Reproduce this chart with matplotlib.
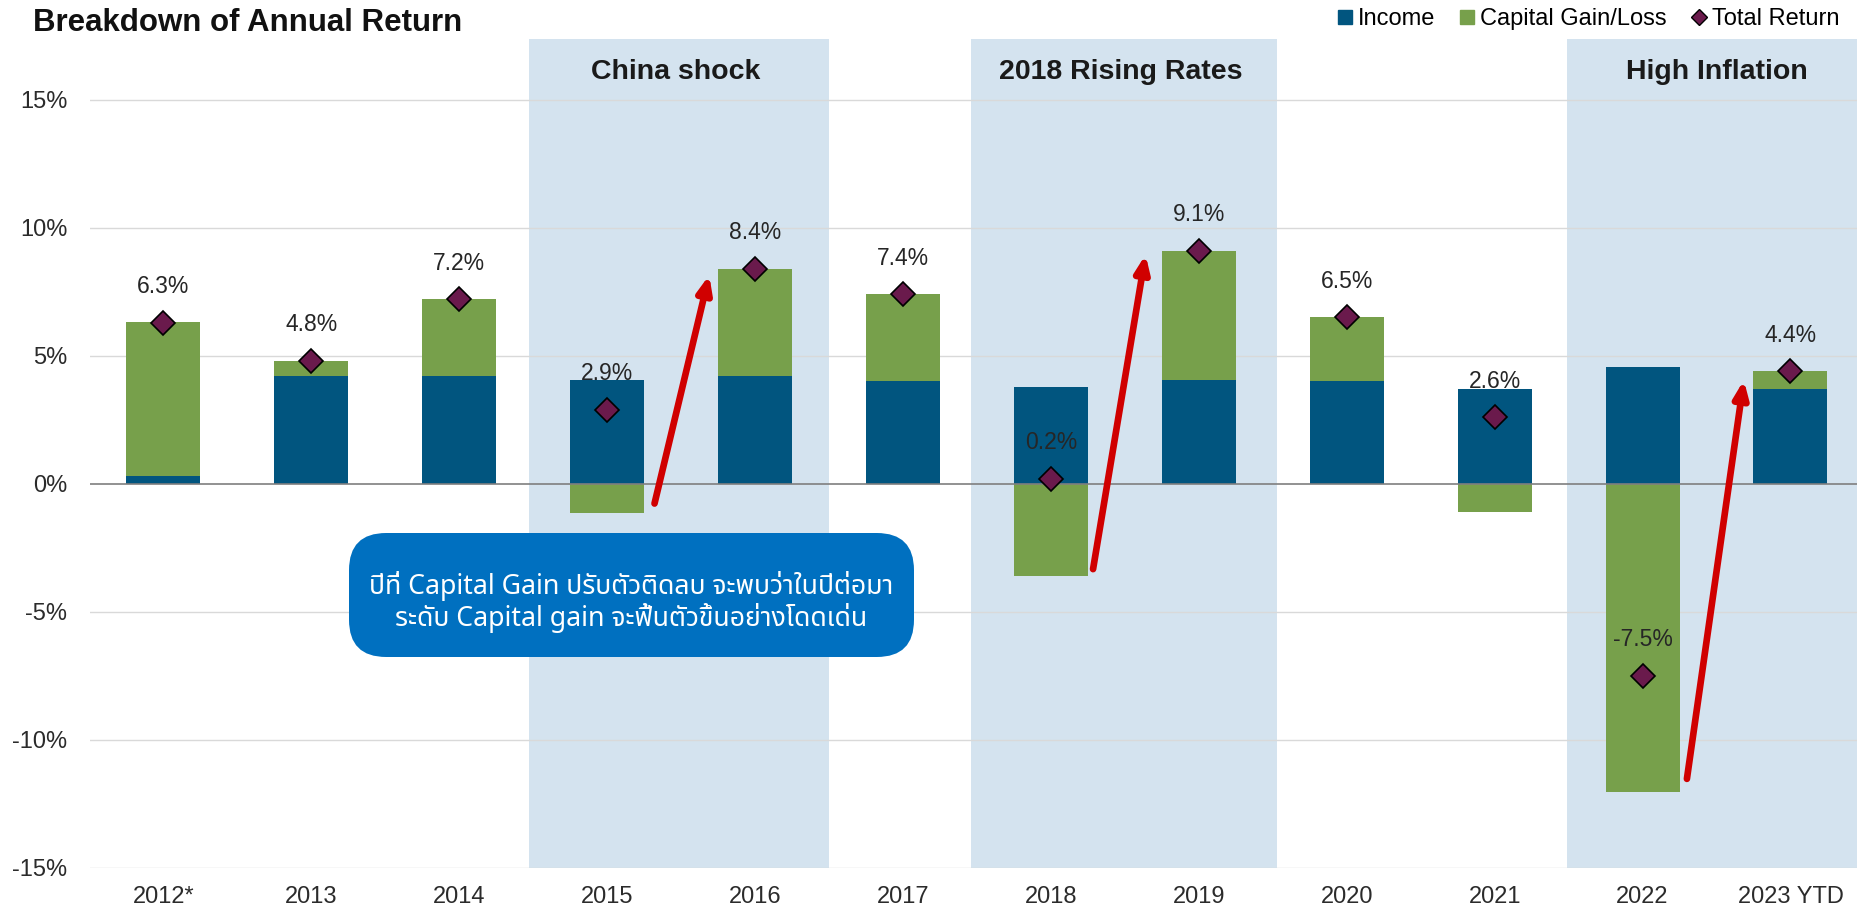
import matplotlib
matplotlib.use("Agg")
import matplotlib.pyplot as plt
from matplotlib.patches import FancyBboxPatch
from matplotlib.lines import Line2D
import numpy as np

categories = ["2012*", "2013", "2014", "2015", "2016", "2017", "2018", "2019", "2020", "2021", "2022", "2023 YTD"]
income = [0.32, 4.2, 4.2, 4.05, 4.2, 4.0, 3.8, 4.07, 4.0, 3.7, 4.55, 3.7]
capital = [6.0, 0.6, 3.0, -1.15, 4.2, 3.4, -3.6, 5.03, 2.5, -1.1, -12.05, 0.7]
total = [6.3, 4.8, 7.2, 2.9, 8.4, 7.4, 0.2, 9.1, 6.5, 2.6, -7.5, 4.4]
periods = ["China shock", "2018 Rising Rates", "High Inflation"]
period_start = [2.47, 5.46, 9.49]
period_end = [4.5, 7.53, 11.55]
yticks = [15, 10, 5, 0, -5, -10, -15]
note_lines = ["ปีที่ Capital Gain ปรับตัวติดลบ จะพบว่าในปีต่อมา",
              "ระดับ Capital gain จะฟื้นตัวขึ้นอย่างโดดเด่น"]

C_INC = "#01557F"
C_CAP = "#77A04B"
C_TOT = "#6A1A4C"
C_SHADE = "#D4E3EF"
C_BOX = "#0070C0"
C_ARROW = "#D00000"

LATIN = "Liberation Sans"
plt.rcParams["font.family"] = [LATIN, "DejaVu Sans"]

W, H = 1857, 908
AX_L = 89.5
fig = plt.figure(figsize=(W / 100, H / 100), dpi=100)
ax = fig.add_axes([AX_L / W, (908 - 868) / H, 1 - AX_L / W, (868 - 39) / H])

x = np.arange(len(categories))
ax.set_xlim(-0.5, 11.45)
ax.set_ylim(-15, 17.37)

for s, e, lab in zip(period_start, period_end, periods):
    ax.axvspan(s, e, color=C_SHADE, zorder=0, lw=0)
    ax.text((s + e) / 2 - 0.02, 16.07, lab, ha="center", va="center",
            fontsize=20.5, fontweight="bold", color="#1a1a1a", zorder=5)

for t in yticks:
    if t != 0:
        ax.axhline(t, color="#D9D9D9", lw=1.0, zorder=1)
ax.axhline(0, color="#7F7F7F", lw=1.2, zorder=3)

w = 0.5
inc = np.array(income)
cap = np.array(capital)
ax.bar(x, inc, width=w, color=C_INC, zorder=2)
cap_bottom = np.where(cap >= 0, inc, 0)
ax.bar(x, cap, width=w, bottom=cap_bottom, color=C_CAP, zorder=2)

ax.plot(x, total, ls="none", marker="D", ms=12, mfc=C_TOT, mec="black", mew=1.2, zorder=6)
for xi, t in zip(x, total):
    ax.annotate(f"{t:.1f}%", (xi, t), xytext=(0, 26), textcoords="offset points",
                ha="center", va="center", fontsize=16.5, color="#262626", zorder=7)

ax.set_yticks(yticks)
ax.set_yticklabels([f"{t}%" for t in yticks])
ax.set_xticks(x)
ax.set_xticklabels(categories)
ax.tick_params(axis="both", length=0, labelsize=17, labelcolor="#2b2b2b")
ax.tick_params(axis="y", pad=16)
ax.tick_params(axis="x", pad=13)
for sp in ax.spines.values():
    sp.set_visible(False)

arrows = [((3.32, -0.77), (3.69, 8.15)), ((6.285, -3.33), (6.64, 8.95)), ((10.30, -11.52), (10.685, 4.05))]
for (x0, y0), (x1, y1) in arrows:
    ax.annotate("", xy=(x1, y1), xytext=(x0, y0),
                arrowprops=dict(arrowstyle="-|>,head_length=1.0,head_width=0.42", color=C_ARROW,
                                lw=4.8, shrinkA=0, shrinkB=0), zorder=8)

fig.text(33 / W, 1 - 23 / H, "Breakdown of Annual Return", fontsize=22.5, fontweight="bold",
         ha="left", va="center", color="#111111")

handles = [Line2D([], [], ls="none", marker="s", ms=9.5, color=C_INC),
           Line2D([], [], ls="none", marker="s", ms=9.5, color=C_CAP),
           Line2D([], [], ls="none", marker="D", ms=8.5, mfc=C_TOT, mec="black")]
fig.legend(handles, ["Income", "Capital Gain/Loss", "Total Return"], loc="center right",
           bbox_to_anchor=(1 - 18 / W, 1 - 19 / H), ncol=3, frameon=False, fontsize=17,
           handletextpad=0.2, columnspacing=1.0, handlelength=0.7, borderaxespad=0, borderpad=0)

bx0, bx1, by0, by1 = 349, 914, 533, 657
box = FancyBboxPatch((bx0 / W, 1 - by1 / H), (bx1 - bx0) / W, (by1 - by0) / H,
                     boxstyle="round,pad=0,rounding_size=0.02", transform=fig.transFigure,
                     facecolor=C_BOX, edgecolor="none", zorder=10, mutation_aspect=W / H)
fig.add_artist(box)
fam = ["Noto Sans Thai", "Noto Sans", "DejaVu Sans"]
for i, line in enumerate(note_lines):
    fig.text((bx0 + bx1) / 2 / W, 1 - (586 + 32 * i) / H, line, ha="center", va="center",
             fontsize=19.2, color="white", family=fam, zorder=11)

fig.savefig("out.png", dpi=100)
